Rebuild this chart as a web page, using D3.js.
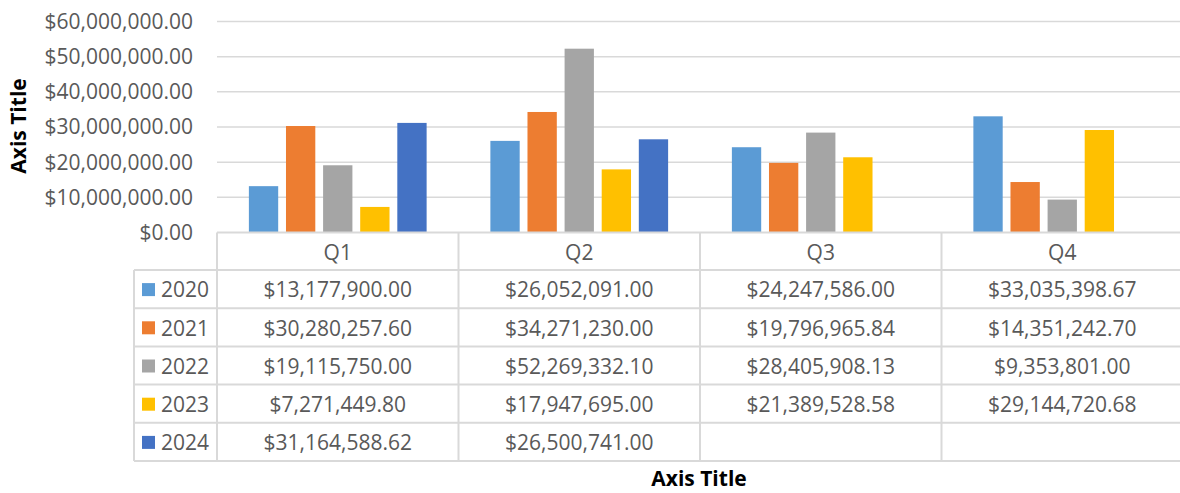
<!DOCTYPE html>
<html>
<head>
<meta charset="utf-8">
<script src="https://cdn.jsdelivr.net/npm/d3@7"></script>
<style>
  html, body { margin: 0; padding: 0; background: #fff; }
  svg { display: block; font-family: "Open Sans", sans-serif; }
</style>
</head>
<body>
<div id="chart"></div>
<script>
const quarters = ["Q1", "Q2", "Q3", "Q4"];
const years = ["2020", "2021", "2022", "2023", "2024"];
const yearColors = ["#5B9BD5", "#ED7D31", "#A5A5A5", "#FFC000", "#4472C4"];

const values2020 = [13177900.00, 26052091.00, 24247586.00, 33035398.67];
const values2021 = [30280257.60, 34271230.00, 19796965.84, 14351242.70];
const values2022 = [19115750.00, 52269332.10, 28405908.13, 9353801.00];
const values2023 = [7271449.80, 17947695.00, 21389528.58, 29144720.68];
const values2024 = [31164588.62, 26500741.00, null, null];

const yTicks = [0, 10e6, 20e6, 30e6, 40e6, 50e6, 60e6];

const seriesValues = [values2020, values2021, values2022, values2023, values2024];
const series = years.map((yr, i) => ({
  year: yr,
  color: yearColors[i],
  values: quarters.map((q, j) => ({ q, v: seriesValues[i][j] }))
}));

const width = 1180, height = 493;
const plotLeft = 217, plotRight = 1183;
const plotTop = 21.5, plotBottom = 232.5;
const rowH = 38.2;
const headerBottom = 270;
const tableBottom = headerBottom + rowH * years.length;
const legendLeft = 134;

const svg = d3.select("#chart").append("svg")
  .attr("width", width).attr("height", height);

const x0 = d3.scaleBand().domain(quarters).range([plotLeft, plotRight]).paddingInner(0);
const x1 = d3.scaleBand().domain(years)
  .range([x0.bandwidth() * 0.132, x0.bandwidth() * 0.868])
  .paddingInner(0.21).paddingOuter(0);
const y = d3.scaleLinear().domain([0, 60e6]).range([plotBottom, plotTop]);

const money = v => "$" + d3.format(",.2f")(v);
const gridColor = "#d9d9d9";
const textColor = "#595959";
const fontSize = "21px";

// gridlines
svg.append("g")
  .selectAll("line")
  .data(yTicks.slice(1))
  .join("line")
  .attr("x1", plotLeft).attr("x2", plotRight)
  .attr("y1", d => y(d)).attr("y2", d => y(d))
  .attr("stroke", gridColor).attr("stroke-width", 1.5);

// y axis labels
svg.append("g")
  .selectAll("text")
  .data(yTicks)
  .join("text")
  .attr("x", 193)
  .attr("y", d => y(d))
  .attr("dy", "0.35em")
  .attr("text-anchor", "end")
  .attr("fill", textColor)
  .attr("font-size", fontSize)
  .text(d => money(d));

// bars
const groups = svg.append("g")
  .selectAll("g")
  .data(series)
  .join("g")
  .attr("fill", d => d.color);

groups.selectAll("rect")
  .data(d => d.values.filter(p => p.v != null).map(p => ({ ...p, year: d.year })))
  .join("rect")
  .attr("x", d => x0(d.q) + x1(d.year))
  .attr("width", x1.bandwidth())
  .attr("y", d => y(d.v))
  .attr("height", d => y(0) - y(d.v));

// data table
const table = svg.append("g")
  .attr("stroke", gridColor).attr("stroke-width", 2).attr("fill", "none");

table.append("line")
  .attr("x1", plotLeft).attr("x2", plotRight)
  .attr("y1", plotBottom).attr("y2", plotBottom);

years.forEach((yr, i) => {
  table.append("line")
    .attr("x1", legendLeft).attr("x2", plotRight)
    .attr("y1", headerBottom + rowH * i).attr("y2", headerBottom + rowH * i);
});
table.append("line")
  .attr("x1", legendLeft).attr("x2", plotRight)
  .attr("y1", tableBottom).attr("y2", tableBottom);

table.append("line")
  .attr("x1", legendLeft).attr("x2", legendLeft)
  .attr("y1", headerBottom).attr("y2", tableBottom);

table.selectAll(".vcol")
  .data(quarters.map(q => x0(q)))
  .join("line")
  .attr("x1", d => d).attr("x2", d => d)
  .attr("y1", plotBottom).attr("y2", tableBottom);

// header labels
svg.append("g")
  .selectAll("text")
  .data(quarters)
  .join("text")
  .attr("x", d => x0(d) + x0.bandwidth() / 2)
  .attr("y", (plotBottom + headerBottom) / 2 + 1)
  .attr("dy", "0.35em")
  .attr("text-anchor", "middle")
  .attr("fill", textColor)
  .attr("font-size", fontSize)
  .text(d => d);

// rows
const rows = svg.append("g")
  .selectAll("g")
  .data(series)
  .join("g")
  .attr("transform", (d, i) => `translate(0,${headerBottom + rowH * i + rowH / 2 + 1})`);

rows.append("rect")
  .attr("x", 142).attr("y", -7)
  .attr("width", 13).attr("height", 13)
  .attr("fill", d => d.color);

rows.append("text")
  .attr("x", 161)
  .attr("dy", "0.35em")
  .attr("fill", textColor)
  .attr("font-size", fontSize)
  .text(d => d.year);

rows.selectAll(".cell")
  .data(d => d.values.filter(p => p.v != null))
  .join("text")
  .attr("x", d => x0(d.q) + x0.bandwidth() / 2)
  .attr("dy", "0.35em")
  .attr("text-anchor", "middle")
  .attr("fill", textColor)
  .attr("font-size", fontSize)
  .text(d => money(d.v));

// axis titles
svg.append("text")
  .attr("x", 699)
  .attr("y", 479)
  .attr("dy", "0.35em")
  .attr("text-anchor", "middle")
  .attr("font-size", "21px")
  .attr("font-weight", "bold")
  .attr("fill", "#000")
  .text("Axis Title");

svg.append("text")
  .attr("transform", "translate(19,126) rotate(-90)")
  .attr("dy", "0.35em")
  .attr("text-anchor", "middle")
  .attr("font-size", "21px")
  .attr("font-weight", "bold")
  .attr("fill", "#000")
  .text("Axis Title");
</script>
</body>
</html>
